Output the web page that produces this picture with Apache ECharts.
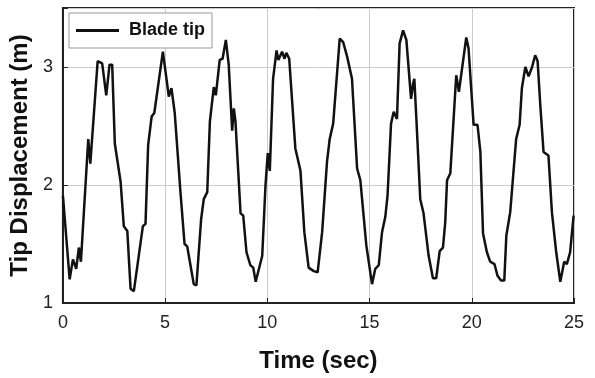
<!DOCTYPE html>
<html>
<head>
    <meta charset="utf-8" />
    <title>Tip Displacement</title>
    <style>
        html, body { margin: 0; padding: 0; background: #fff; }
        #chart { width: 595px; height: 378px; }
    </style>
</head>
<body>
    <div id="chart"></div>
    <script src="https://cdn.jsdelivr.net/npm/echarts@6/dist/echarts.min.js"></script>
    <script>
        // values
        var timeSec = [
            0, 0.33, 0.49, 0.65, 0.78, 0.88, 1.24, 1.34, 1.70, 1.92,
            2.12, 2.28, 2.41, 2.54, 2.82, 2.98, 3.15, 3.31, 3.47, 3.71,
            3.91, 4.04, 4.17, 4.34, 4.47, 4.89, 5.18, 5.31, 5.47, 5.75,
            5.95, 6.08, 6.24, 6.40, 6.53, 6.76, 6.89, 7.06, 7.19, 7.38,
            7.48, 7.67, 7.81, 7.97, 8.11, 8.28, 8.36, 8.44, 8.69, 8.82,
            8.98, 9.17, 9.31, 9.43, 9.75, 9.91, 10.02, 10.12, 10.28, 10.45,
            10.54, 10.72, 10.84, 10.93, 11.07, 11.37, 11.62, 11.81, 12.02, 12.27,
            12.46, 12.68, 12.92, 13.05, 13.22, 13.54, 13.71, 13.90, 14.14, 14.39,
            14.55, 14.84, 15.12, 15.28, 15.45, 15.61, 15.77, 15.88, 16.05, 16.18,
            16.34, 16.47, 16.64, 16.80, 17.03, 17.13, 17.19, 17.29, 17.48, 17.64,
            17.89, 18.10, 18.26, 18.43, 18.59, 18.70, 18.79, 18.95, 19.24, 19.37,
            19.73, 19.84, 20.09, 20.28, 20.42, 20.55, 20.74, 20.90, 21.11, 21.26,
            21.43, 21.59, 21.69, 21.88, 22.17, 22.34, 22.45, 22.62, 22.78, 22.95,
            23.10, 23.22, 23.35, 23.51, 23.75, 23.92, 24.13, 24.33, 24.52, 24.65,
            24.81, 24.98
        ];
        var bladeTip = [
            1.91, 1.20, 1.37, 1.29, 1.47, 1.35, 2.39, 2.18, 3.05, 3.03,
            2.76, 3.02, 3.02, 2.35, 2.03, 1.65, 1.61, 1.12, 1.10, 1.40,
            1.65, 1.67, 2.34, 2.58, 2.61, 3.13, 2.75, 2.82, 2.61, 1.94,
            1.50, 1.48, 1.32, 1.16, 1.15, 1.71, 1.88, 1.94, 2.54, 2.83,
            2.76, 3.06, 3.07, 3.23, 3.02, 2.46, 2.65, 2.54, 1.76, 1.74,
            1.43, 1.32, 1.30, 1.18, 1.40, 2.00, 2.27, 2.12, 2.90, 3.14,
            3.06, 3.13, 3.07, 3.12, 3.07, 2.31, 2.12, 1.60, 1.30, 1.27,
            1.26, 1.60, 2.20, 2.39, 2.52, 3.24, 3.21, 3.09, 2.90, 2.14,
            2.04, 1.49, 1.16, 1.29, 1.32, 1.60, 1.73, 1.91, 2.52, 2.62,
            2.56, 3.20, 3.31, 3.23, 2.73, 2.86, 2.90, 2.56, 1.88, 1.76,
            1.40, 1.21, 1.21, 1.44, 1.47, 1.68, 2.04, 2.10, 2.93, 2.79,
            3.25, 3.16, 2.51, 2.51, 2.28, 1.59, 1.43, 1.35, 1.33, 1.23,
            1.19, 1.19, 1.57, 1.77, 2.39, 2.51, 2.82, 3.00, 2.92, 3.00,
            3.10, 3.05, 2.68, 2.28, 2.25, 1.77, 1.43, 1.18, 1.35, 1.33,
            1.43, 1.74
        ];

        var points = timeSec.map(function (t, i) { return [t, bladeTip[i]]; });
        var font = "'Liberation Sans', Arial, sans-serif";

        var option = {
            backgroundColor: '#fff',
            animation: false,
            grid: {
                left: 62, right: 21, top: 8, bottom: 74,
                show: true,
                borderColor: '#222',
                borderWidth: 2
            },
            legend: {
                left: 69, top: 13,
                padding: [8, 7, 8, 7],
                backgroundColor: '#fff',
                borderColor: '#999',
                borderWidth: 1,
                icon: 'rect',
                itemWidth: 43,
                itemHeight: 3,
                textStyle: {
                    fontFamily: font,
                    fontWeight: 'bold',
                    fontSize: 18,
                    lineHeight: 19,
                    color: '#111',
                    padding: [0, 0, 0, 5]
                },
                data: ['Blade tip']
            },
            xAxis: {
                type: 'value',
                min: 0, max: 25, interval: 5,
                name: 'Time (sec)',
                nameLocation: 'middle',
                nameGap: 46,
                nameTextStyle: { fontFamily: font, fontWeight: 'bold', fontSize: 24, color: '#111' },
                axisLine: { show: true, lineStyle: { color: '#222', width: 2 } },
                axisTick: { show: true, inside: true, length: 5, lineStyle: { color: '#222' } },
                axisLabel: { fontFamily: font, fontSize: 18, color: '#222', margin: 11 },
                splitLine: { show: true, lineStyle: { color: '#ccc', width: 1 } }
            },
            yAxis: {
                type: 'value',
                min: 1, max: 3.5, interval: 1,
                name: 'Tip Displacement (m)',
                nameLocation: 'middle',
                nameGap: 25,
                nameTextStyle: { fontFamily: font, fontWeight: 'bold', fontSize: 24, color: '#111' },
                axisLine: { show: true, lineStyle: { color: '#222', width: 2 } },
                axisTick: { show: true, inside: true, length: 5, lineStyle: { color: '#222' } },
                axisLabel: {
                    fontFamily: font, fontSize: 18, color: '#222', margin: 10,
                    formatter: function (v) { return v % 1 === 0 ? String(v) : ''; }
                },
                splitLine: { show: true, lineStyle: { color: '#ccc', width: 1 } }
            },
            series: [{
                name: 'Blade tip',
                type: 'line',
                data: points,
                symbol: 'none',
                lineStyle: { color: '#111', width: 2.5 },
                itemStyle: { color: '#111' }
            }]
        };

        var chart = echarts.init(document.getElementById('chart'));
        chart.setOption(option);
    </script>
</body>
</html>
